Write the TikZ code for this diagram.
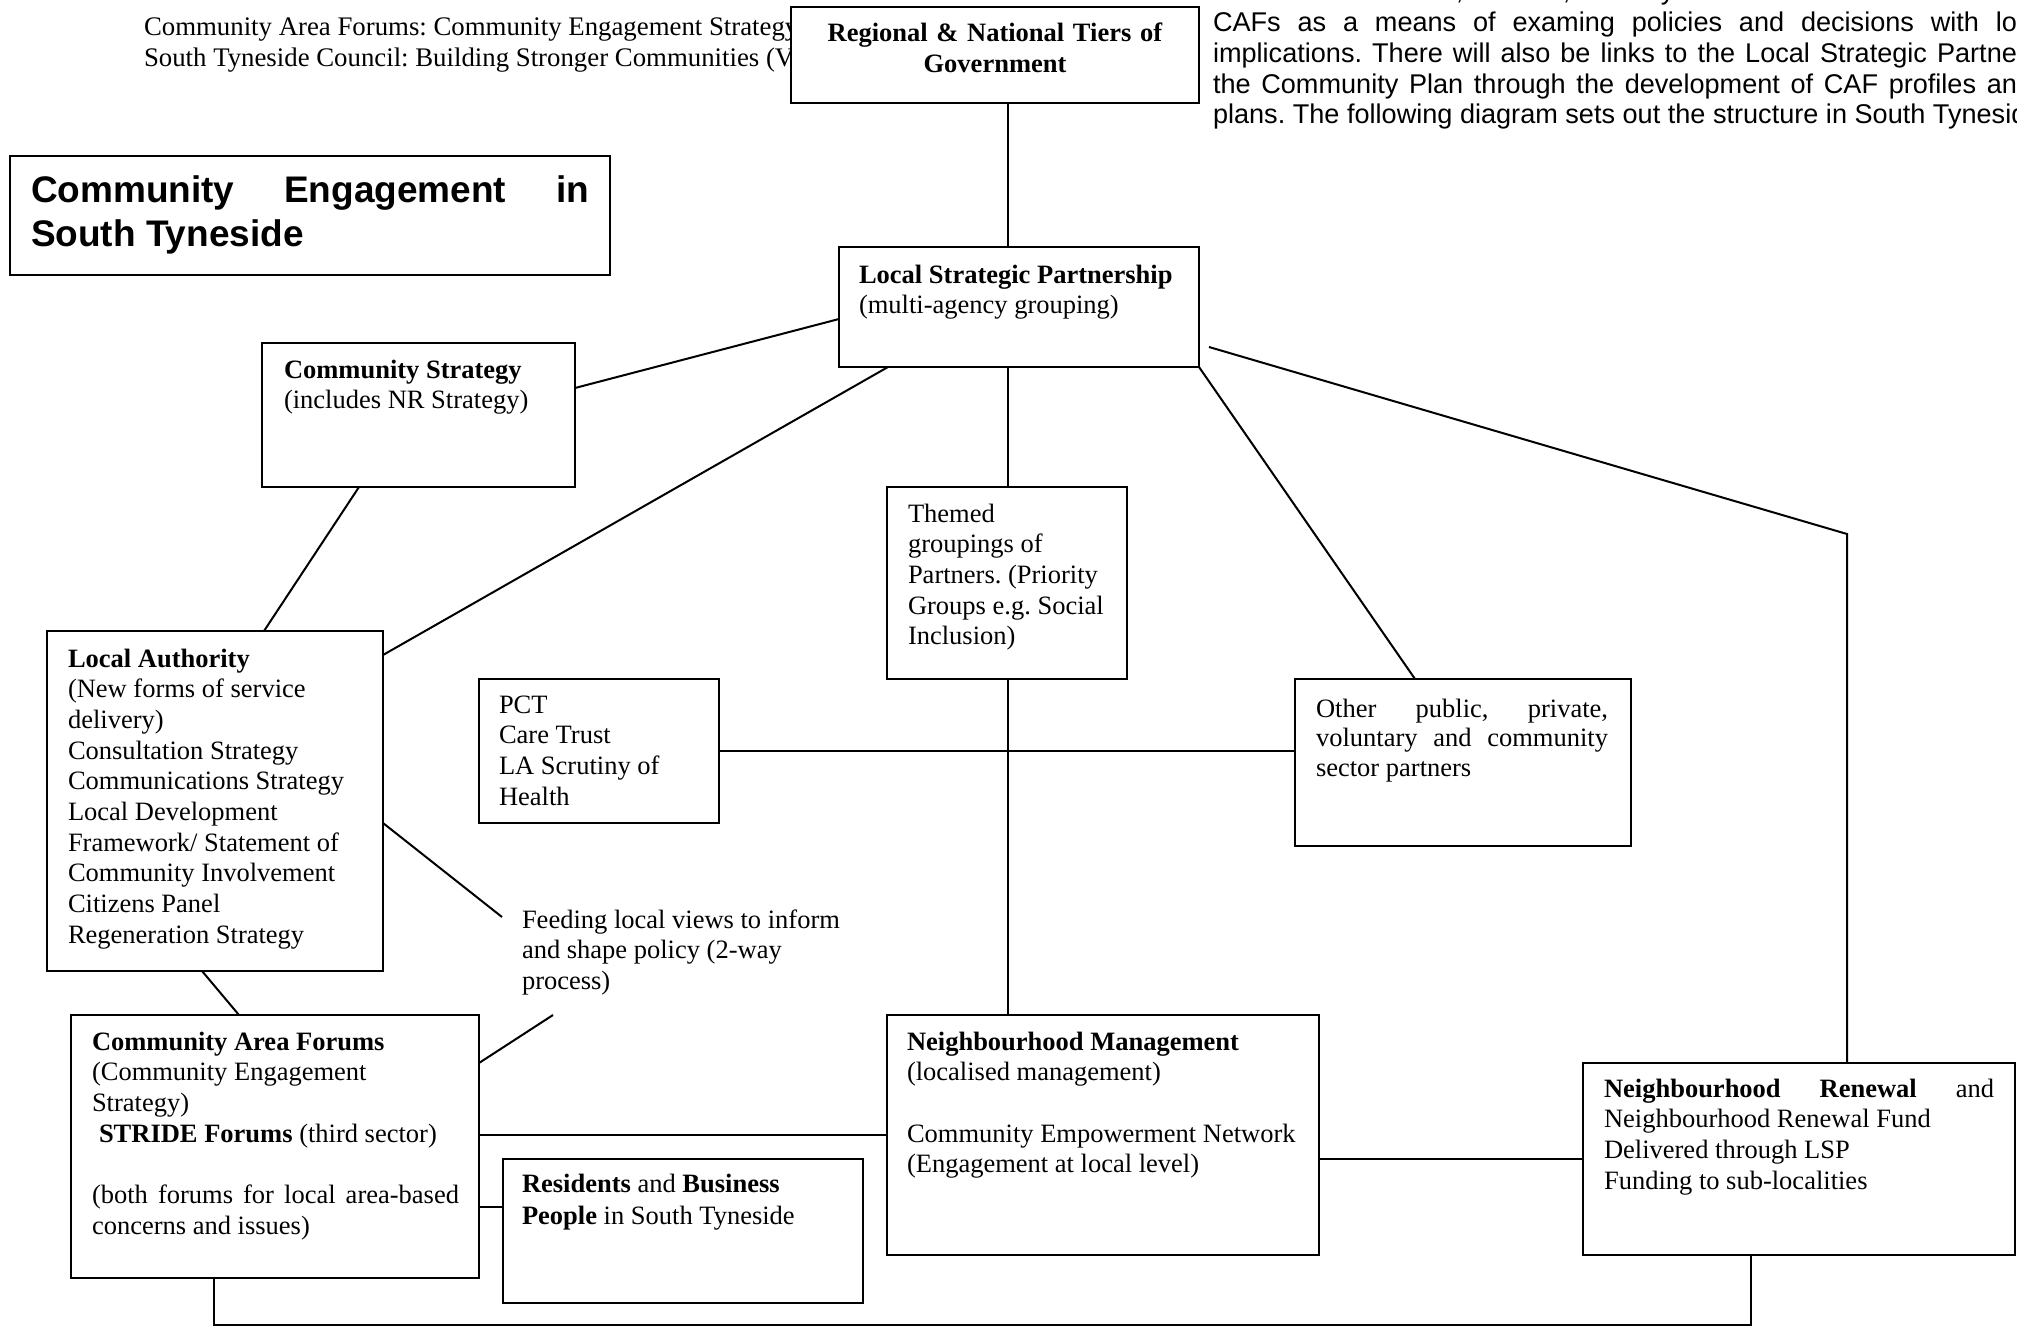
\documentclass[tikz,border=0pt]{standalone}
\usepackage{fontspec}
\setmainfont{Liberation Serif}
\newfontfamily\arialfont{Liberation Sans}
\frenchspacing
\newcommand\jline[2]{\makebox[#1][s]{\spaceskip=0pt\xspaceskip=0pt #2}}
\tikzset{
  box/.style={draw, line width=2pt, fill=white, inner sep=0pt, outer sep=0pt, anchor=north west, rectangle},
  conn/.style={line width=2pt},
  txt/.style={inner sep=0pt, outer sep=0pt, anchor=base west, align=left, font=\fontsize{26.5}{30.7}\selectfont,
    execute at begin node={\spaceskip=0pt\xspaceskip=0pt}},
  para/.style={inner sep=0pt, outer sep=0pt, anchor=base west, align=left, font=\arialfont\fontsize{27.1}{31}\selectfont,
    execute at begin node={\spaceskip=0pt\xspaceskip=0pt}},
}
\begin{document}
\begin{tikzpicture}[x=1pt,y=-1pt]
\useasboundingbox (0,0) rectangle (2017,1327);
\begin{scope}
\clip (0,0) rectangle (2017,1327);
% top right paragraph (cut by page edges)
\node[para] (p0) at (1213,-0.5) {\jline{804pt}{between the Council, Cabinet, Scrutiny and local councillors and the}};
\node[para] (p1) at (1213,32) {\jline{804pt}{CAFs as a means of examing policies and decisions with lo}};
\node[para] (p2) at (1213,63) {\jline{804pt}{implications. There will also be links to the Local Strategic Partne}};
\node[para] (p3) at (1213,94) {\jline{804pt}{the Community Plan through the development of CAF profiles an}};
\node[para] (p4) at (1213,124) {plans. The following diagram sets out the structure in South Tyneside.};
% top left reference text
\node[txt, text width=900pt, font=\fontsize{26.8}{30.7}\selectfont] (refs) at (144,36) {Community Area Forums: Community Engagement Strategy\\South Tyneside Council: Building Stronger Communities (Version};
\end{scope}

% boxes
\node[box, minimum width=408pt, minimum height=96pt] (reg) at (791,7) {};
\node[box, minimum width=360pt, minimum height=120pt] (lsp) at (839,247) {};
\node[box, minimum width=313pt, minimum height=144pt] (cs) at (262,343) {};
\node[box, minimum width=336pt, minimum height=340pt] (la) at (47,631) {};
\node[box, minimum width=240pt, minimum height=192pt] (themed) at (887,487) {};
\node[box, minimum width=240pt, minimum height=144pt] (pct) at (479,679) {};
\node[box, minimum width=336pt, minimum height=167pt] (other) at (1295,679) {};
\node[box, minimum width=408pt, minimum height=263pt] (caf) at (71,1015) {};
\node[box, minimum width=360pt, minimum height=144pt] (res) at (503,1159) {};
\node[box, minimum width=432pt, minimum height=240pt] (nm) at (887,1015) {};
\node[box, minimum width=432pt, minimum height=192pt] (nr) at (1583,1063) {};
\node[box, minimum width=600pt, minimum height=119pt] (title) at (10,156) {};

% free ends
\coordinate (nrStart) at (1209,347);
\coordinate (nrBend) at (1847,534);
\coordinate (feedA) at (502,917);
\coordinate (feedB) at (553,1015);
\coordinate (botL) at (214,1325);
\coordinate (botR) at (1751,1325);

% connectors
\draw[conn] (reg.south -| 1008,0) -- (lsp.north -| 1008,0);
\draw[conn] (lsp.west |- 0,319) -- (cs.east |- 0,388);
\draw[conn] (cs.south -| 359,0) -- (la.north -| 264,0);
\draw[conn] (lsp.south -| 888,0) -- (la.east |- 0,655);
\draw[conn] (lsp.south -| 1008,0) -- (themed.north -| 1008,0);
\draw[conn] (lsp.south east) -- (other.north -| 1415,0);
\draw[conn] (nrStart) -- (nrBend) -- (nr.north -| nrBend);
\draw[conn] (pct.east |- 0,751) -- (other.west |- 0,751);
\draw[conn] (themed.south -| 1008,0) -- (nm.north -| 1008,0);
\draw[conn] (la.south -| 202,0) -- (caf.north -| 239,0);
\draw[conn] (la.east |- 0,823) -- (feedA);
\draw[conn] (caf.east |- 0,1063) -- (feedB);
\draw[conn] (caf.east |- 0,1135) -- (nm.west |- 0,1135);
\draw[conn] (caf.east |- 0,1207) -- (res.west |- 0,1207);
\draw[conn] (nm.east |- 0,1159) -- (nr.west |- 0,1159);
\draw[conn] (caf.south -| botL) -- (botL) -- (botR) -- (nr.south -| botR);

% texts
\node[txt, anchor=base, align=center, text width=400pt] (regText) at (995,42) {\textbf{Regional \& National Tiers of}\\\textbf{Government}};
\node[txt, text width=340pt] (lspText) at (859,283) {\textbf{Local Strategic Partnership}\\(multi-agency grouping)};
\node[txt, text width=290pt] (csText) at (284,378) {\textbf{Community Strategy}\\(includes NR Strategy)};
\node[txt, text width=310pt] (laText) at (68,667) {\textbf{Local Authority}\\(New forms of service\\delivery)\\Consultation Strategy\\Communications Strategy\\Local Development\\Framework/ Statement of\\Community Involvement\\Citizens Panel\\Regeneration Strategy};
\node[txt, text width=215pt] (themedText) at (908,522) {Themed\\groupings of\\Partners. (Priority\\Groups e.g. Social\\Inclusion)};
\node[txt, text width=215pt] (pctText) at (499,713) {PCT\\Care Trust\\LA Scrutiny of\\Health};
\node[txt, text width=300pt, font=\fontsize{26.5}{29.5}\selectfont] (otherText) at (1316,717) {\jline{292pt}{Other public, private,}\\\jline{292pt}{voluntary and community}\\sector partners};
\node[txt, text width=380pt] (cafText) at (92,1050) {\textbf{Community Area Forums}\\(Community Engagement\\Strategy)\\\hspace*{7pt}\textbf{STRIDE Forums} (third sector)\\[30.7pt]\jline{367pt}{(both forums for local area-based}\\concerns and issues)};
\node[txt, text width=330pt, font=\fontsize{26.5}{32}\selectfont] (resText) at (522,1192) {\textbf{Residents} and \textbf{Business}\\\textbf{People} in South Tyneside};
\node[txt, text width=410pt] (nmText) at (907,1050) {\textbf{Neighbourhood Management}\\(localised management)\\[30.7pt]Community Empowerment Network\\(Engagement at local level)};
\node[txt, text width=400pt] (nrText) at (1604,1097) {\jline{390pt}{\textbf{Neighbourhood Renewal} and}\\Neighbourhood Renewal Fund\\Delivered through LSP\\Funding to sub-localities};
\node[txt, text width=340pt] (feedText) at (522,928) {Feeding local views to inform\\and shape policy (2-way\\process)};
\node[txt, text width=570pt, font=\arialfont\bfseries\fontsize{37}{44}\selectfont] (titleText) at (31,202) {\jline{558pt}{Community Engagement in}\\South Tyneside};
\end{tikzpicture}
\end{document}
